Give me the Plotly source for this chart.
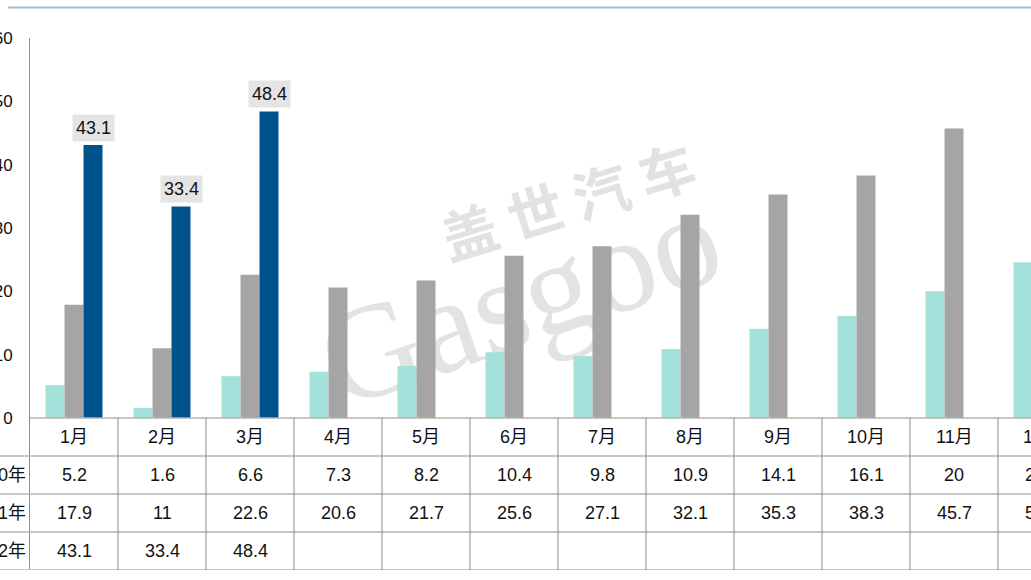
import plotly.graph_objects as go

months = ["1月", "2月", "3月", "4月", "5月", "6月", "7月", "8月", "9月", "10月", "11月", "12月"]
series_names = ["2020年", "2021年", "2022年"]
v2020 = [5.2, 1.6, 6.6, 7.3, 8.2, 10.4, 9.8, 10.9, 14.1, 16.1, 20, 24.6]
v2021 = [17.9, 11, 22.6, 20.6, 21.7, 25.6, 27.1, 32.1, 35.3, 38.3, 45.7, 52.5]
v2022 = [43.1, 33.4, 48.4, None, None, None, None, None, None, None, None, None]
y_ticks = [0, 10, 20, 30, 40, 50, 60]

colors = ["#a3e1da", "#a5a5a5", "#00528c"]
FONT = "Liberation Sans, Arial, Noto Sans CJK SC, sans-serif"

W, H = 1031, 580
ML, MR, MT, MB = 30, 0, 38, 10
PW, PH = W - ML - MR, H - MT - MB
COLW = 88.0  # pixel width of one month column
ROW = 6.0  # table row height in y units
NROWS = 4
YMIN = -ROW * NROWS
BARGAP = 0.352

def px_x(p):
    return (p - ML) / PW

def px_y(p):
    return (H - MB - p) / PH

def col_paper(i):
    return (i + 0.5) * COLW / PW

xs = list(range(len(months)))
fig = go.Figure()
for name, vals, c in zip(series_names, [v2020, v2021, v2022], colors):
    fig.add_trace(go.Bar(x=xs, y=vals, name=name, marker=dict(color=c, line=dict(width=0)),
                         showlegend=False))

shapes = []
annotations = []

# watermark (below data)
shapes.append(dict(type="rect", xref="paper", yref="paper",
                   x0=px_x(460), x1=px_x(680), y0=px_y(245), y1=px_y(170),
                   line=dict(width=0), fillcolor="rgba(0,0,0,0)", layer="below",
                   label=dict(text="盖 世 汽 车", textangle=-17, textposition="middle center",
                              font=dict(family="Noto Sans CJK SC", size=56, color="#e2e2e2", weight="bold"))))
shapes.append(dict(type="rect", xref="paper", yref="paper",
                   x0=px_x(415), x1=px_x(615), y0=px_y(320), y1=px_y(250),
                   line=dict(width=0), fillcolor="rgba(0,0,0,0)", layer="below",
                   label=dict(text="Gasgoo", textangle=-19, textposition="middle center",
                              font=dict(family="Liberation Serif", size=135, color="#e3e3e3"))))

# top decorative line
shapes.append(dict(type="line", xref="paper", yref="paper", x0=px_x(8), x1=px_x(W + 5),
                   y0=px_y(7.5), y1=px_y(7.5), line=dict(color="#a7bccb", width=2)))

# table horizontal lines
shapes.append(dict(type="line", xref="paper", yref="y", x0=0, x1=1.05, y0=0, y1=0,
                   line=dict(color="#b4b4b4", width=1.5)))
for r in range(1, NROWS + 1):
    shapes.append(dict(type="line", xref="paper", yref="y", x0=px_x(0), x1=1.05,
                       y0=-ROW * r, y1=-ROW * r, line=dict(color="#b4b4b4", width=1.5)))
# table vertical lines
for i in range(1, len(months) + 1):
    shapes.append(dict(type="line", xref="x", yref="y", x0=i - 0.5, x1=i - 0.5,
                       y0=0, y1=YMIN, line=dict(color="#8c8c8c", width=1)))

# table texts
for i, m in enumerate(months):
    annotations.append(dict(x=col_paper(i), y=-ROW * 0.5, xref="paper", yref="y", text=m,
                            showarrow=False, xanchor="center",
                            font=dict(family=FONT, size=18, color="#111111")))
for r, (name, vals) in enumerate(zip(series_names, [v2020, v2021, v2022]), start=1):
    annotations.append(dict(x=px_x(28), y=-ROW * (r + 0.5), xref="paper", yref="y", text=name,
                            showarrow=False, xanchor="right",
                            font=dict(family=FONT, size=18, color="#111111")))
    for i, v in enumerate(vals):
        if v is None:
            continue
        annotations.append(dict(x=col_paper(i), y=-ROW * (r + 0.5), xref="paper", yref="y",
                                text=f"{v:g}", showarrow=False, xanchor="center",
                                font=dict(family=FONT, size=18, color="#111111")))

# data labels for 2022
off = (1 - BARGAP) / 3
for i, v in enumerate(v2022):
    if v is None:
        continue
    annotations.append(dict(x=i + off, y=v, xref="x", yref="y", text=f"{v:g}", showarrow=False,
                            yanchor="bottom", yshift=3, bgcolor="#e4e4e4", borderpad=3,
                            font=dict(family=FONT, size=18, color="#111111")))

fig.update_layout(
    width=W, height=H,
    margin=dict(l=ML, r=MR, t=MT, b=MB, pad=0, autoexpand=False),
    paper_bgcolor="white", plot_bgcolor="white",
    barmode="group", bargap=BARGAP, bargroupgap=0,
    shapes=shapes, annotations=annotations,
    xaxis=dict(range=[-0.5, -0.5 + PW / COLW], showticklabels=False, showgrid=False,
               zeroline=False, showline=False, fixedrange=True, automargin=False),
    yaxis=dict(range=[YMIN, 60], tickvals=y_ticks, ticktext=[str(t) for t in y_ticks],
               showgrid=False, zeroline=False, showline=True, linecolor="#8c8c8c", linewidth=1,
               ticks="", ticklabelstandoff=13, automargin=False,
               tickfont=dict(family=FONT, size=17, color="#111111"), fixedrange=True),
)

fig.write_html("out.html")
